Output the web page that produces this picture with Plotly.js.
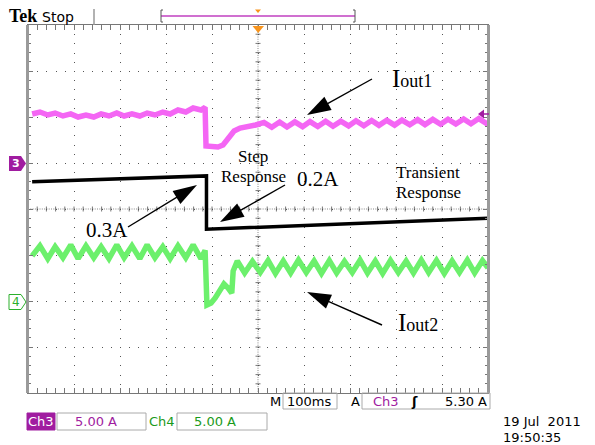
<!DOCTYPE html>
<html>
<head>
<meta charset="utf-8">
<script src="https://cdn.plot.ly/plotly-3.0.1.min.js"></script>
<style>html,body{margin:0;padding:0;background:#fff;}#chart{width:595px;height:445px;}</style>
</head>
<body>
<div id="chart"></div>
<script>
// ---- Data (time in ms, 100 ms/div; currents in A, 5 A/div) ----
const tCh3 = [9,26,43,59,76,93,109,126,143,159,176,193,209,226,243,259,276,293,309,326,343,359,376,385,
  387,400,413,424,435,448,461,478,495,
  513,530,547,563,580,597,613,630,647,663,680,697,713,730,747,763,780,797,813,830,847,863,880,897,913,930,947,963,980,997,1000];
const iCh3 = [5.33,5.54,5.22,5.43,5.11,5.33,5.00,5.22,5.00,5.33,5.11,5.43,5.11,5.33,5.11,5.43,5.22,5.54,5.33,5.76,5.54,5.98,5.76,6.05,
  1.85,1.74,1.74,1.96,2.61,3.48,3.80,3.91,4.13,
  4.41,3.88,4.45,3.91,4.47,3.95,4.50,3.97,4.53,4.00,4.55,4.03,4.59,4.05,4.62,4.09,4.64,4.12,4.67,4.15,4.71,4.17,4.74,4.21,4.76,4.24,4.79,4.26,4.83,4.29,4.57];

const tCh4 = [9,26,43,59,76,93,109,126,143,159,176,193,209,226,243,259,276,293,309,326,343,359,376,385,
  389,398,407,417,426,435,443,446,
  455,471,488,505,522,538,555,571,588,605,622,638,655,671,688,705,722,738,755,771,788,805,822,838,855,871,888,905,922,938,955,971,988,1000];
const iCh4 = [4.9,6.0,4.6,5.9,4.7,6.1,4.6,6.0,4.7,5.9,4.6,6.1,4.7,6.0,4.6,6.1,4.7,5.9,4.6,6.0,4.7,6.1,4.6,5.5,
  -0.43,-0.22,0.33,1.09,1.85,1.41,0.87,3.26,
  4.35,3.05,4.30,3.10,4.40,3.00,4.35,3.05,4.45,3.10,4.35,3.00,4.40,3.05,4.30,3.10,4.45,3.05,4.35,3.00,4.40,3.10,4.35,3.05,4.45,3.10,4.40,3.00,4.35,3.10,4.45,3.05,4.40,3.6];

// hand-drawn load-step sketch (screen divisions)
const tStep = [9, 388, 388, 1000];
const dStep = [0.59, 0.72, -0.44, -0.20];

// labels
const lblIout1 = 'I<span style="font-size:18px">out1</span>';
const lblIout2 = 'I<span style="font-size:18px">out2</span>';
const lbl03 = '0.3A', lbl02 = '0.2A';
const lblStep = ['Step', 'Response'];
const lblTrans = ['Transient', 'Response'];
const scaleCh3 = '5.00 A', scaleCh4 = '5.00 A', timeBase = '100ms', trigLevel = '5.30 A';
const dateLines = ['19 Jul\u00a0\u00a02011', '19:50:35'];

// ---- pixel helpers for decorations ----
const L = 28, T = 25, W = 460, H = 368;
const px = x => (x - L) / W;
const py = y => (T + H - y) / H;
const MAG = '#a01ca0', GRN = '#1a9a1a', ORG = '#f7941d';
const SANS = 'DejaVu Sans', SERIF = 'Liberation Serif';

const shapes = [];
function seg(x0, y0, x1, y1, color, width, dash, layer) {
  shapes.push({type: 'line', xref: 'paper', yref: 'paper', x0: px(x0), y0: py(y0), x1: px(x1), y1: py(y1),
    line: {color: color, width: width, dash: dash || 'solid'}, layer: layer || 'above'});
}
function poly(pts, fill, lineColor, lw) {
  shapes.push({type: 'path', xref: 'paper', yref: 'paper',
    path: 'M' + pts.map(p => px(p[0]) + ',' + py(p[1])).join('L') + 'Z',
    fillcolor: fill, line: {color: lineColor || fill, width: lw || 0}, layer: 'above'});
}
function rect(x0, y0, x1, y1, fill, lineColor) {
  shapes.push({type: 'rect', xref: 'paper', yref: 'paper', x0: px(x0), y0: py(y0), x1: px(x1), y1: py(y1),
    fillcolor: fill || 'rgba(0,0,0,0)', line: {color: lineColor || '#aaa', width: 1}, layer: 'above'});
}
function arrow(tx, ty, hx, hy) {
  const len = 24, wid = 15;
  const dx = hx - tx, dy = hy - ty, d = Math.hypot(dx, dy);
  const ux = dx / d, uy = dy / d, nx = -uy, ny = ux;
  const bx = hx - ux * len, by = hy - uy * len;
  seg(tx, ty, bx + ux * 2, by + uy * 2, '#000', 1.4);
  poly([[hx, hy], [bx + nx * wid / 2, by + ny * wid / 2], [bx - nx * wid / 2, by - ny * wid / 2]], '#000');
}

const ann = [];
function txt(x, y, text, size, color, family, xanchor, extra) {
  ann.push(Object.assign({xref: 'paper', yref: 'paper', x: px(x), y: py(y), text: text, showarrow: false,
    xanchor: xanchor || 'center', yanchor: 'middle', font: {size: size, color: color || '#000', family: family || SANS}}, extra || {}));
}

// center crosshair with ticks
seg(258, 25, 258, 393, '#888', 1, '1px,1.3px', 'below');
seg(28, 209, 488, 209, '#888', 1, '1px,1.3px', 'below');
for (let k = 1; k < 40; k++) { const y = 25 + k * 9.2; seg(255.5, y, 260.5, y, '#777', 1, 'solid', 'below'); }
for (let k = 1; k < 50; k++) { const x = 28 + k * 9.2; seg(x, 206.5, x, 211.5, '#777', 1, 'solid', 'below'); }

// thick side borders
seg(27.5, 25, 27.5, 393, '#9a9a9a', 3);
seg(488.5, 25, 488.5, 393, '#9a9a9a', 3);

// top bar
seg(94, 9, 94, 25, '#999', 1.5);
seg(161, 16, 355, 16, '#c040c0', 1.5);
seg(161, 10, 161, 22, '#555', 1); seg(161, 10, 163, 10, '#555', 1); seg(161, 22, 163, 22, '#555', 1);
seg(355, 10, 355, 22, '#555', 1); seg(353, 10, 355, 10, '#555', 1); seg(353, 22, 355, 22, '#555', 1);
poly([[255, 9.5], [261, 9.5], [258, 13]], ORG);
poly([[252.5, 26], [264, 26], [258.2, 33]], ORG);

// channel markers
poly([[9, 156], [21, 156], [26, 163.5], [21, 171], [9, 171]], MAG);
poly([[9, 294.5], [21, 294.5], [26, 302], [21, 309.5], [9, 309.5]], '#fff', '#2db02d', 1);
// trigger level marker
poly([[478, 114], [484, 109.5], [484, 118.5]], MAG);
seg(484, 114, 489, 114, MAG, 1.5);

// bottom readout boxes
rect(283, 393, 337, 409);
rect(362, 393, 490, 409);
rect(27, 413, 55, 430, MAG, MAG);
rect(57, 413, 146, 430);
rect(177, 413, 267, 430);

// arrows
arrow(128, 227, 197, 185);
arrow(285, 185, 220, 222);
arrow(372, 79, 307, 115);
arrow(382, 325, 307, 292);

// annotation texts
txt(107, 230, lbl03, 21, '#000', SERIF);
txt(318, 179, lbl02, 21, '#000', SERIF);
txt(253, 156, lblStep[0], 17, '#000', SERIF);
txt(253, 176, lblStep[1], 17, '#000', SERIF);
txt(428, 172, lblTrans[0], 17, '#000', SERIF);
txt(428, 192, lblTrans[1], 17, '#000', SERIF);
txt(390, 78, lblIout1, 25, '#000', SERIF, 'left');
txt(396, 322, lblIout2, 25, '#000', SERIF, 'left');

// scope UI texts
txt(23, 16.5, '<b>Tek</b>', 18, '#000', SERIF);
txt(58, 17, 'Stop', 14, '#000', SANS);
txt(15.5, 163.5, '<b>3</b>', 11, '#fff', SANS);
txt(15.5, 302, '4', 12, '#2db02d', SANS);
txt(275, 401, 'M', 13, '#000', SANS);
txt(309, 401, timeBase, 13, '#000', SANS);
txt(355, 401, 'A', 13, '#000', SANS);
txt(386, 401, 'Ch3', 13, MAG, SANS);
txt(414, 401, '<b>ʃ</b>', 13, '#000', SANS);
txt(489, 401, trigLevel, 13, '#000', SANS, 'right');
txt(41, 421.5, 'Ch3', 13, '#fff', SANS);
txt(96, 421.5, scaleCh3, 13, MAG, SANS);
txt(162, 421.5, 'Ch4', 13, GRN, SANS);
txt(215, 421.5, scaleCh4, 13, GRN, SANS);
txt(501, 421, dateLines[0], 13, '#000', SANS, 'left');
txt(501, 437, dateLines[1], 13, '#000', SANS, 'left');

const traces = [
  {x: tCh3, y: iCh3, yaxis: 'y2', mode: 'lines', line: {color: '#f466f4', width: 5.5}, hoverinfo: 'skip'},
  {x: tCh4, y: iCh4, yaxis: 'y3', mode: 'lines', line: {color: '#6cf06c', width: 5.5}, hoverinfo: 'skip'},
  {x: tStep, y: dStep, yaxis: 'y', mode: 'lines', line: {color: '#000', width: 3.5}, hoverinfo: 'skip'}
];

const axCommon = {
  showgrid: true, gridcolor: '#555', gridwidth: 1, griddash: '1px,8.2px',
  zeroline: false, showticklabels: false,
  ticks: 'inside', ticklen: 5, tickcolor: '#777', tickwidth: 1,
  minor: {ticks: 'inside', ticklen: 3, tickcolor: '#777', showgrid: false},
  showline: true, linecolor: '#777', linewidth: 1, mirror: 'allticks', fixedrange: true
};

const layout = {
  width: 595, height: 445,
  margin: {l: 28, r: 107, t: 25, b: 52, pad: 0},
  paper_bgcolor: '#fff', plot_bgcolor: '#fff',
  showlegend: false,
  xaxis: Object.assign({}, axCommon, {range: [0, 1000], dtick: 100, tick0: 0, minor: Object.assign({}, axCommon.minor, {dtick: 20})}),
  yaxis: Object.assign({}, axCommon, {range: [-4, 4], dtick: 1, tick0: 0, minor: Object.assign({}, axCommon.minor, {dtick: 0.2})}),
  yaxis2: {overlaying: 'y', range: [-25, 15], visible: false, fixedrange: true},
  yaxis3: {overlaying: 'y', range: [-10, 30], visible: false, fixedrange: true},
  shapes: shapes,
  annotations: ann
};

Plotly.newPlot('chart', traces, layout, {staticPlot: true, displayModeBar: false});
</script>
</body>
</html>
